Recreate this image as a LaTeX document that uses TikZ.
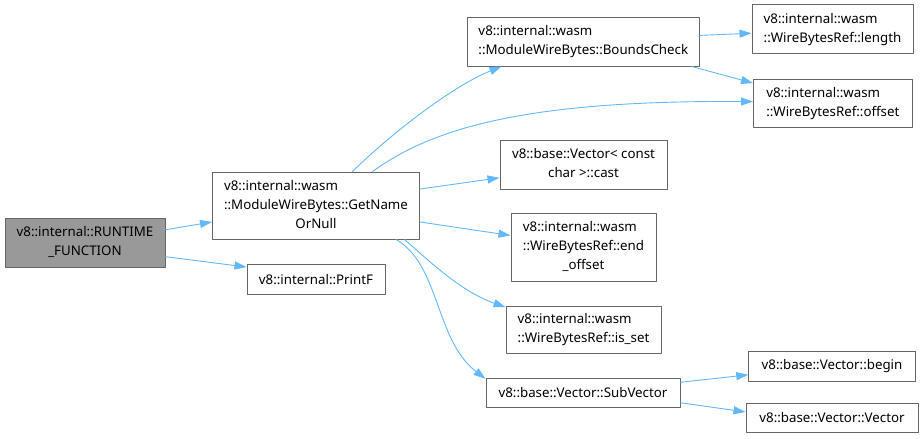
\documentclass[tikz,border=0pt]{standalone}
\usepackage{fontspec}
\setmainfont{Noto Sans}
\usetikzlibrary{arrows.meta}
\definecolor{dxedge}{HTML}{63B8FF}
\definecolor{dxborder}{HTML}{666666}
\definecolor{dxroot}{HTML}{999999}
% left-aligned lines, last line centred
\newcommand{\fnlines}[2]{\begin{tabular}{@{}l@{}}#1\\\multicolumn{1}{@{}c@{}}{#2}\end{tabular}}
\begin{document}
\begin{tikzpicture}[
  x=1pt, y=-1pt,
  font=\fontsize{13.3}{19}\selectfont,
  line cap=round, line join=round,
  fn/.style={draw=dxborder, fill=white, line width=1pt, inner sep=0pt, align=center},
  root/.style={fn, fill=dxroot},
  call/.style={draw=dxedge, line width=0.9pt, -{Triangle[length=12pt, width=8pt]}},
]
\useasboundingbox (0,0) rectangle (924,439);

% caller and first level
\node[root, minimum width=160pt, minimum height=49pt] (rt) at (85,242.5)
  {\fnlines{v8::internal::RUNTIME}{\_FUNCTION}};
\node[fn, minimum width=207pt, minimum height=67pt] (gn) at (316,205.5)
  {\fnlines{v8::internal::wasm\\::ModuleWireBytes::GetName}{OrNull}};
\node[fn, minimum width=138pt, minimum height=30pt] (pf) at (316,279.3)
  {v8::internal::PrintF};

% second level
\node[fn, minimum width=232pt, minimum height=49pt] (bc) at (583.3,41.5)
  {\fnlines{v8::internal::wasm}{::ModuleWireBytes::BoundsCheck}};
\node[fn, minimum width=167pt, minimum height=49pt] (ca) at (583.5,164.5)
  {\fnlines{v8::base::Vector< const}{char >::cast}};
\node[fn, minimum width=145pt, minimum height=68pt] (eo) at (583.5,247)
  {\fnlines{v8::internal::wasm\\::WireBytesRef::end}{\_offset}};
\node[fn, minimum width=155pt, minimum height=47pt] (is) at (583.5,329.5)
  {\fnlines{v8::internal::wasm}{::WireBytesRef::is\_set}};
\node[fn, minimum width=194pt, minimum height=29pt] (sv) at (583,392.5)
  {v8::base::Vector::SubVector};

% third level
\node[fn, minimum width=161pt, minimum height=48.5pt] (len) at (832.5,29)
  {\fnlines{v8::internal::wasm}{::WireBytesRef::length}};
\node[fn, minimum width=158.5pt, minimum height=48pt] (off) at (832.8,103)
  {\fnlines{v8::internal::wasm}{::WireBytesRef::offset}};
\node[fn, minimum width=166.5pt, minimum height=30pt] (bg) at (832,366)
  {v8::base::Vector::begin};
\node[fn, minimum width=172pt, minimum height=29.5pt] (vc) at (832,418)
  {v8::base::Vector::Vector};

% calls
\draw[call] (rt.9) -- (gn.189);
\draw[call] (rt.-10) -- (pf.170);
\draw[call] (gn.43) .. controls (395,130) and (455,85) .. (bc.197);
\draw[call] (gn.31) .. controls (430,130) and (520,100) .. (off.179);
\draw[call] (gn.9) -- (ca.189);
\draw[call] (gn.-9) -- (eo.171);
\draw[call] (gn.-21) .. controls (430,262) and (462,292) .. (is.164);
\draw[call] (gn.-23) .. controls (440,265) and (435,340) .. (sv.172);
\draw[call] (bc.3) -- (len.183);
\draw[call] (bc.-13.5) -- (off.166);
\draw[call] (sv.6) -- (bg.186);
\draw[call] (sv.-6) -- (vc.176);
\end{tikzpicture}
\end{document}
